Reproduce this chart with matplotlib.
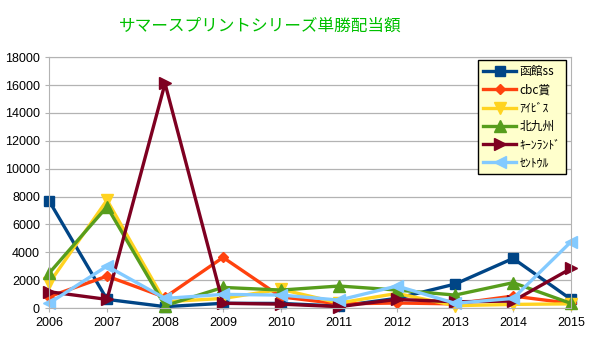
import matplotlib.pyplot as plt

plt.rcParams['font.family'] = ['Noto Sans CJK JP', 'DejaVu Sans']

# data
years = [2006, 2007, 2008, 2009, 2010, 2011, 2012, 2013, 2014, 2015]
hakodate = [7700, 620, 100, 340, 330, 140, 700, 1720, 3560, 620]
cbc = [810, 2290, 770, 3630, 800, 300, 360, 300, 860, 330]
ibis = [1770, 7740, 450, 690, 1340, 360, 1050, 170, 260, 300]
kitakyushu = [2490, 7270, 170, 1480, 1290, 1580, 1290, 930, 1820, 330]
keeneland = [1170, 620, 16110, 340, 280, 100, 620, 450, 500, 2840]
centaur = [340, 3010, 690, 980, 930, 570, 1580, 340, 690, 4760]

labels = ['函館ss', 'cbc賞', 'ｱｲﾋﾞｽ', '北九州', 'ｷｰﾝﾗﾝﾄﾞ', 'ｾﾝﾄｳﾙ']
series = [hakodate, cbc, ibis, kitakyushu, keeneland, centaur]
colors = ['#004586', '#ff420e', '#ffd320', '#579d1c', '#7e0021', '#83caff']
markers = ['s', 'D', 'v', '^', '>', '<']
msizes = [7, 5, 8, 8, 8, 8]

fig = plt.figure(figsize=(6.05, 3.40), dpi=100)
ax = fig.add_axes([0.081, 0.094, 0.863, 0.738])

for vals, lab, c, m, ms in zip(series, labels, colors, markers, msizes):
    ax.plot(years, vals, color=c, lw=2.4, marker=m, markersize=ms,
            label=lab, solid_joinstyle='miter', clip_on=False)

ax.set_xlim(2006, 2015)
ax.set_ylim(0, 18000)
ax.set_xticks(years)
ax.set_yticks(range(0, 18001, 2000))
ax.yaxis.grid(True, color='#b3b3b3', lw=0.9)
ax.set_axisbelow(True)
for s in ax.spines.values():
    s.set_color('#b3b3b3')
ax.tick_params(labelsize=8.5, colors='#000000', length=3, width=0.8)
ax.tick_params(axis='both', color='#b3b3b3')
for t in ax.get_xticklabels() + ax.get_yticklabels():
    t.set_fontfamily('Liberation Sans')
    t.set_fontsize(9)

fig.text(0.43, 0.924, 'サマースプリントシリーズ単勝配当額', color='#00c000',
         fontsize=12, ha='center', va='center')

leg = ax.legend(loc='upper right', bbox_to_anchor=(0.9445, 0.84),
                bbox_transform=fig.transFigure, fontsize=8.5,
                fancybox=False, framealpha=1, borderpad=0.4,
                handlelength=2.8, labelspacing=0.45, handletextpad=0.3)
leg.get_frame().set_facecolor('#ffffcc')
leg.get_frame().set_edgecolor('#000000')
leg.get_frame().set_linewidth(1.0)

fig.savefig('out.png', dpi=100)
